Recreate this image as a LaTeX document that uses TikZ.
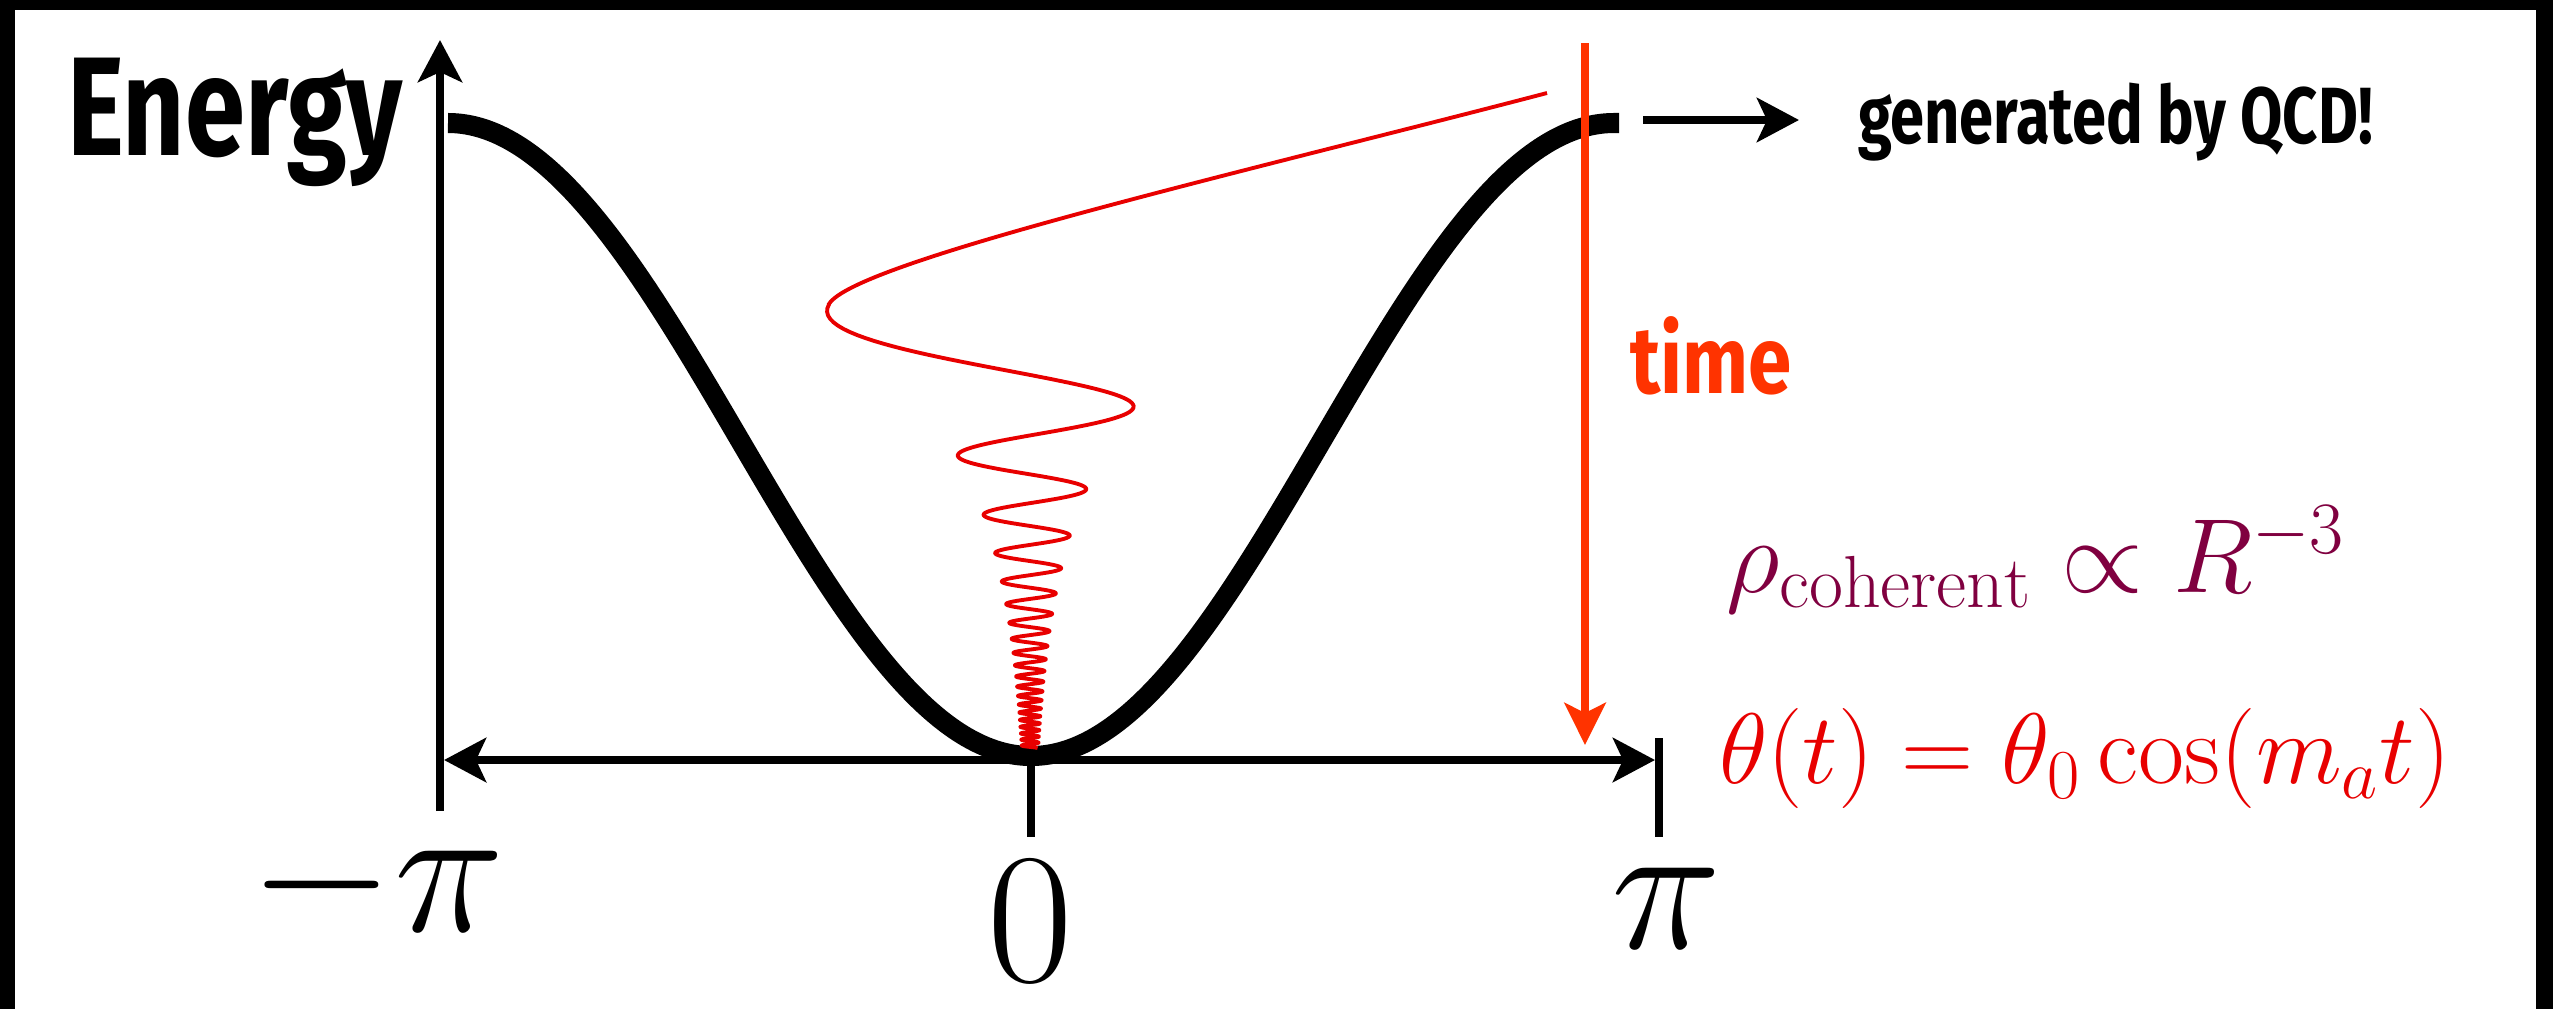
\RequirePackage{fix-cm}
\documentclass[tikz,border=0pt]{standalone}
\usepackage{fontspec}
\newfontfamily\condsans[FakeStretch=0.77]{Fira Sans}
\usetikzlibrary{arrows.meta}
\definecolor{timered}{RGB}{255,51,0}
\definecolor{oscred}{RGB}{232,0,0}
\definecolor{rhopurple}{RGB}{128,0,64}

\begin{document}
\begin{tikzpicture}[line width=2.3pt,>={Stealth[length=4.2mm,width=4.4mm,inset=1mm]}]
% 黑框 + 白底（底边无框）
\fill[black] (0,0) rectangle (25.53,10.09);
\fill[white] (0.15,0) rectangle (25.36,9.99);
\useasboundingbox (0,0) rectangle (25.53,10.09);
% ---------- 坐标轴 ----------
\coordinate (ybot) at (4.40,1.98);
\coordinate (ytop) at (4.40,9.69);
\coordinate (xl) at (4.44,2.49);
\coordinate (xr) at (16.55,2.49);
\draw[->] (ybot) -- (ytop);
\draw[<->] (xl) -- (xr);
\draw (16.59,2.71) -- (16.59,1.72);
\draw (10.31,2.49) -- (10.31,1.72);
\node[anchor=base,inner sep=0] (mpi) at (3.77,0.78) {\fontsize{53}{58}\selectfont$-\pi$};
\node[anchor=base,inner sep=0] (zero) at (10.30,0.28) {\fontsize{53}{58}\selectfont$0$};
\node[anchor=base,inner sep=0] (ppi) at (16.67,0.61) {\fontsize{53}{58}\selectfont$\pi$};
\node[anchor=base,inner sep=0] (energy) at (2.35,8.54) {\condsans\bfseries\fontsize{40}{44}\selectfont Energy};
% 势能曲线 1-cos(theta)
\draw[line width=5.7pt] plot[domain=-180:180,samples=181,smooth] ({10.31+5.83*\x/180},{2.53+3.165*(1-cos(\x))}) -- (16.19,8.86);
% ---------- 右上：QCD ----------
\coordinate (qa) at (16.43,8.89);
\coordinate (qb) at (17.99,8.89);
\draw[->] (qa) -- (qb);
\node[anchor=base west,inner sep=0] (qcd) at (18.54,8.66) {\condsans\bfseries\fontsize{22.7}{26}\selectfont generated by QCD!};
% ---------- 时间箭头与振荡 ----------
\coordinate (ttop) at (15.85,9.66);
\coordinate (tbot) at (15.85,2.64);
\draw[timered,line width=2.5pt,-{Stealth[length=4.2mm,width=4.1mm,inset=1mm]}] (ttop) -- (tbot);
\node[text=timered,anchor=base west,inner sep=0] (time) at (16.26,6.16) {\scalebox{1.07}[1]{\condsans\bfseries\fontsize{27}{30}\selectfont time}};
% 振荡：先一段斜线，再越来越密、越来越小
\draw[oscred,line width=1.1pt] (15.47,9.16) .. controls (12.57,8.40) and (8.55,7.48) .. (8.29,7.05)
  -- plot[variable=\k,domain=-0.15:38.9,samples=1500]
  ({10.30-1.93*exp(-0.833*ln(1+\k/0.88))*cos(180*\k)},{6.84-1.11*ln(1+\k/0.88)});
\node[text=rhopurple,anchor=base west,inner sep=0] (rho) at (17.22,4.17) {\fontsize{30}{34}\selectfont$\rho_{\mathrm{coherent}}\propto R^{-3}$};
\node[text=oscred,anchor=base west,inner sep=0] (theta) at (17.15,2.26) {\fontsize{28.5}{32}\selectfont$\theta(t)=\theta_0\cos(m_a t)$};
\end{tikzpicture}
\end{document}
